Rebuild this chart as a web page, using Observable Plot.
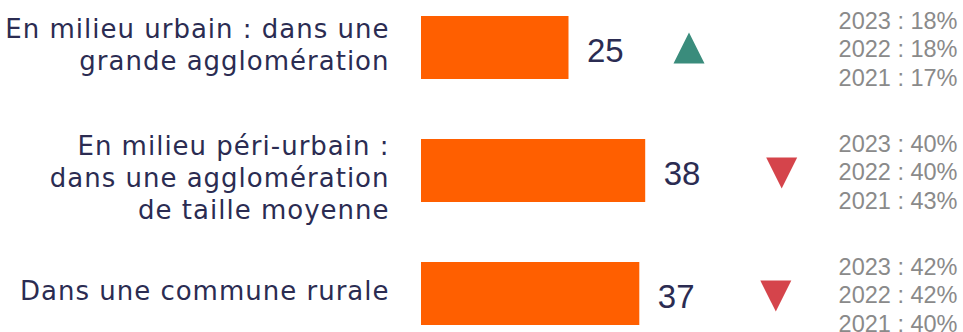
<!DOCTYPE html>
<html><head><meta charset="utf-8">
<script src="https://cdn.jsdelivr.net/npm/d3@7"></script>
<script src="https://cdn.jsdelivr.net/npm/@observablehq/plot@0.6"></script>
<style>
html,body{margin:0;padding:0;background:#fff;}
#chart svg{display:block;}
#chart g[font-family*="DejaVu"] text{letter-spacing:1px;}
</style>
</head><body><div id="chart"></div>
<script>
// ---- data ----
const categories = [
  "En milieu urbain : dans une\ngrande agglomération",
  "En milieu péri-urbain :\ndans une agglomération\nde taille moyenne",
  "Dans une commune rurale"
];
const values = [25, 38, 37];
const share2023 = [18, 40, 42];
const share2022 = [18, 40, 42];
const share2021 = [17, 43, 40];
const years = ["2023", "2022", "2021"];

const data = categories.map((c, i) => ({
  category: c,
  value: values[i],
  s2023: share2023[i],
  s2022: share2022[i],
  s2021: share2021[i],
  trend: values[i] > share2023[i] ? "up" : "down"
}));

// ---- styling helpers ----
const navy = "#2b2c52";
const labelFont = "'DejaVu Sans', 'Noto Sans', sans-serif";
const labelSize = 26;
const labelNudge = [-4, 6, -4];

const triUp = {draw(ctx, size) { const r = Math.sqrt(size / Math.PI);
  ctx.moveTo(0, -r); ctx.lineTo(r, r); ctx.lineTo(-r, r); ctx.closePath(); }};
const triDown = {draw(ctx, size) { const r = Math.sqrt(size / Math.PI);
  ctx.moveTo(0, r); ctx.lineTo(r, -r); ctx.lineTo(-r, -r); ctx.closePath(); }};

const statFont = "'Liberation Sans', Arial, sans-serif";
const statOffsets = [-27, 1, 30];
const statKeys = ["s2023", "s2022", "s2021"];

const chart = Plot.plot({
  width: 963, height: 332,
  marginLeft: 421, marginRight: 11, marginTop: 15, marginBottom: 6,
  x: {domain: [0, 90], axis: null},
  y: {domain: categories, axis: null, paddingInner: 0.49, paddingOuter: 0},
  style: {background: "transparent", overflow: "visible"},
  marks: [
    Plot.barX(data, {x: "value", y: "category", fill: "#ff5f00"}),
    Plot.text(data, {x: "value", y: "category", text: d => String(d.value),
      textAnchor: "start", dx: 18, dy: 3, fontSize: 33, fontFamily: statFont, fill: navy}),
    Plot.dot(data.filter(d => d.trend === "up"), {x: "value", y: "category",
      symbol: triUp, r: 15.5, fill: "#3a8c7c", dx: 120}),
    Plot.dot(data.filter(d => d.trend === "down"), {x: "value", y: "category",
      symbol: triDown, r: 15.5, fill: "#d5444b", dx: 136, dy: 2}),
    ...data.map((d, i) => Plot.text([d], {y: "category", frameAnchor: "left", text: "category",
      textAnchor: "end", dx: -32, dy: labelNudge[i], fontSize: labelSize, fontFamily: labelFont,
      lineHeight: 31.8 / labelSize, fill: navy})),
    ...years.map((yr, k) => Plot.text(data, {y: "category", frameAnchor: "right",
      text: d => `${yr} : ${d[statKeys[k]]}%`, textAnchor: "end", dx: 5, dy: statOffsets[k],
      fontSize: 23.5, fontFamily: statFont, fill: "#8a8a8a"}))
  ]
});
document.getElementById("chart").appendChild(chart);
</script>
</body></html>
